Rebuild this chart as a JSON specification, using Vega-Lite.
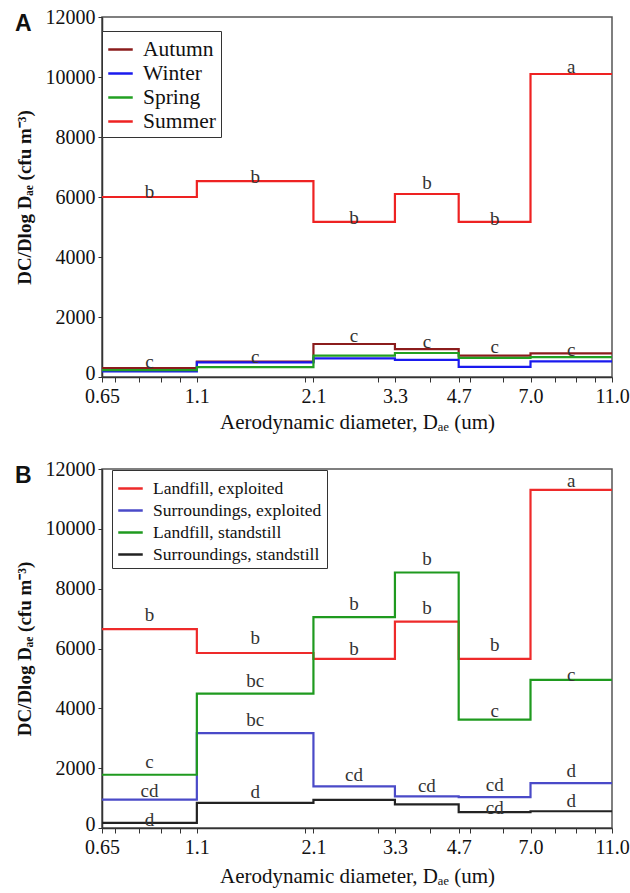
{
  "$schema": "https://vega.github.io/schema/vega-lite/v6.json",
  "padding": {"left": 14, "top": 6, "right": 6, "bottom": 5},
  "spacing": 25,
  "resolve": {"scale": {"color": "independent"}, "legend": {"color": "independent"}},
  "config": {
    "font": "Liberation Serif",
    "view": {"stroke": "#555", "strokeWidth": 1.5},
    "axis": {
      "labelFont": "Liberation Serif", "labelFontSize": 20, "labelColor": "#111",
      "titleFont": "Liberation Serif", "titleFontSize": 21, "titleColor": "#111",
      "domainColor": "#333", "domainWidth": 1.5, "tickColor": "#333", "grid": false
    },
    "legend": {
      "orient": "none", "strokeColor": "#333", "fillColor": "white", "padding": 5,
      "symbolType": "stroke", "symbolStrokeWidth": 2.5, "symbolSize": 600,
      "labelFont": "Liberation Serif", "labelColor": "#111", "labelOffset": 9, "rowPadding": 0, "labelLimit": 400
    },
    "title": {"font": "Liberation Sans", "fontSize": 23, "fontWeight": "bold", "anchor": "start", "frame": "bounds", "baseline": "top", "color": "#111"}
  },
  "datasets": {
    "lineA": [
      {"s": "Autumn", "x": 0.65, "v": 300}, {"s": "Autumn", "x": 1.1, "v": 510}, {"s": "Autumn", "x": 2.1, "v": 1100}, {"s": "Autumn", "x": 3.3, "v": 930}, {"s": "Autumn", "x": 4.7, "v": 710}, {"s": "Autumn", "x": 7.0, "v": 790}, {"s": "Autumn", "x": 11.0, "v": 790},
      {"s": "Winter", "x": 0.65, "v": 190}, {"s": "Winter", "x": 1.1, "v": 490}, {"s": "Winter", "x": 2.1, "v": 620}, {"s": "Winter", "x": 3.3, "v": 570}, {"s": "Winter", "x": 4.7, "v": 340}, {"s": "Winter", "x": 7.0, "v": 520}, {"s": "Winter", "x": 11.0, "v": 520},
      {"s": "Spring", "x": 0.65, "v": 230}, {"s": "Spring", "x": 1.1, "v": 330}, {"s": "Spring", "x": 2.1, "v": 710}, {"s": "Spring", "x": 3.3, "v": 800}, {"s": "Spring", "x": 4.7, "v": 640}, {"s": "Spring", "x": 7.0, "v": 660}, {"s": "Spring", "x": 11.0, "v": 660},
      {"s": "Summer", "x": 0.65, "v": 6000}, {"s": "Summer", "x": 1.1, "v": 6530}, {"s": "Summer", "x": 2.1, "v": 5170}, {"s": "Summer", "x": 3.3, "v": 6100}, {"s": "Summer", "x": 4.7, "v": 5170}, {"s": "Summer", "x": 7.0, "v": 10100}, {"s": "Summer", "x": 11.0, "v": 10100}
    ],
    "labA": [
      {"x": 0.846, "v": 6170, "t": "b"}, {"x": 1.52, "v": 6670, "t": "b"}, {"x": 2.63, "v": 5300, "t": "b"}, {"x": 3.94, "v": 6470, "t": "b"}, {"x": 5.74, "v": 5270, "t": "b"}, {"x": 8.77, "v": 10330, "t": "a"},
      {"x": 0.846, "v": 500, "t": "c"}, {"x": 1.52, "v": 667, "t": "c"}, {"x": 2.63, "v": 1367, "t": "c"}, {"x": 3.94, "v": 1177, "t": "c"}, {"x": 5.74, "v": 990, "t": "c"}, {"x": 8.77, "v": 910, "t": "c"}
    ],
    "lineB": [
      {"s": "Landfill, exploited", "x": 0.65, "v": 6650}, {"s": "Landfill, exploited", "x": 1.1, "v": 5850}, {"s": "Landfill, exploited", "x": 2.1, "v": 5650}, {"s": "Landfill, exploited", "x": 3.3, "v": 6900}, {"s": "Landfill, exploited", "x": 4.7, "v": 5650}, {"s": "Landfill, exploited", "x": 7.0, "v": 11300}, {"s": "Landfill, exploited", "x": 11.0, "v": 11300},
      {"s": "Surroundings, exploited", "x": 0.65, "v": 950}, {"s": "Surroundings, exploited", "x": 1.1, "v": 3170}, {"s": "Surroundings, exploited", "x": 2.1, "v": 1390}, {"s": "Surroundings, exploited", "x": 3.3, "v": 1060}, {"s": "Surroundings, exploited", "x": 4.7, "v": 1030}, {"s": "Surroundings, exploited", "x": 7.0, "v": 1500}, {"s": "Surroundings, exploited", "x": 11.0, "v": 1500},
      {"s": "Landfill, standstill", "x": 0.65, "v": 1780}, {"s": "Landfill, standstill", "x": 1.1, "v": 4490}, {"s": "Landfill, standstill", "x": 2.1, "v": 7050}, {"s": "Landfill, standstill", "x": 3.3, "v": 8540}, {"s": "Landfill, standstill", "x": 4.7, "v": 3620}, {"s": "Landfill, standstill", "x": 7.0, "v": 4950}, {"s": "Landfill, standstill", "x": 11.0, "v": 4950},
      {"s": "Surroundings, standstill", "x": 0.65, "v": 170}, {"s": "Surroundings, standstill", "x": 1.1, "v": 840}, {"s": "Surroundings, standstill", "x": 2.1, "v": 940}, {"s": "Surroundings, standstill", "x": 3.3, "v": 790}, {"s": "Surroundings, standstill", "x": 4.7, "v": 530}, {"s": "Surroundings, standstill", "x": 7.0, "v": 560}, {"s": "Surroundings, standstill", "x": 11.0, "v": 560}
    ],
    "labB": [
      {"x": 0.846, "v": 7110, "t": "b"}, {"x": 1.52, "v": 6350, "t": "b"}, {"x": 2.63, "v": 5980, "t": "b"}, {"x": 3.94, "v": 7350, "t": "b"}, {"x": 5.74, "v": 6110, "t": "b"}, {"x": 8.77, "v": 11590, "t": "a"},
      {"x": 0.846, "v": 2200, "t": "c"}, {"x": 1.52, "v": 4910, "t": "bc"}, {"x": 2.63, "v": 7480, "t": "b"}, {"x": 3.94, "v": 8980, "t": "b"}, {"x": 5.74, "v": 3910, "t": "c"}, {"x": 8.77, "v": 5110, "t": "c"},
      {"x": 0.846, "v": 1240, "t": "cd"}, {"x": 1.52, "v": 3610, "t": "bc"}, {"x": 2.63, "v": 1770, "t": "cd"}, {"x": 3.94, "v": 1400, "t": "cd"}, {"x": 5.74, "v": 1440, "t": "cd"}, {"x": 8.77, "v": 1900, "t": "d"},
      {"x": 0.846, "v": 270, "t": "d"}, {"x": 1.52, "v": 1200, "t": "d"}, {"x": 5.74, "v": 670, "t": "cd"}, {"x": 8.77, "v": 900, "t": "d"}
    ]
  },
  "vconcat": [
    {
      "width": 510, "height": 360,
      "title": {"text": "A", "dy": 33, "dx": 0},
      "layer": [
        {
          "data": {"name": "lineA"},
          "mark": {"type": "line", "interpolate": "step-after", "strokeWidth": 2.2},
          "encoding": {
            "x": {"field": "x", "type": "quantitative",
              "scale": {"type": "log", "domain": [0.65, 11], "nice": false, "zero": false},
              "axis": {"title": "Aerodynamic diameter, Dₐₑ (um)", "titleFont": "Liberation Serif", "titleFontWeight": "normal", "labelFont": "Liberation Serif",
                "values": [0.65, 0.7, 0.8, 0.9, 1.0, 1.1, 2.0, 2.1, 3.0, 3.3, 4.0, 4.7, 5.0, 6.0, 7.0, 8.0, 9.0, 10.0, 11.0],
                "labelExpr": "indexof([0.65, 1.1, 2.1, 3.3, 4.7, 7, 11], datum.value) >= 0 ? (datum.value == 0.65 ? '0.65' : format(datum.value, '.1f')) : ''",
                "labelOverlap": false, "labelFlush": false, "tickSize": 5, "labelPadding": 4, "titlePadding": 5}},
            "y": {"field": "v", "type": "quantitative",
              "scale": {"domain": [0, 12000], "nice": false},
              "axis": {"title": "DC/Dlog Dₐₑ (cfu m⁻³)", "titleFont": "Liberation Serif", "titleFontWeight": "bold", "titleFontSize": 19, "labelFont": "Liberation Serif", "format": "d", "values": [0, 2000, 4000, 6000, 8000, 10000, 12000], "tickSize": 4, "labelPadding": 3, "titlePadding": 11,
                "labelOffset": {"condition": {"test": "datum.value == 0", "value": -4}, "value": 0}}},
            "color": {"field": "s", "type": "nominal",
              "scale": {"domain": ["Autumn", "Winter", "Spring", "Summer"], "range": ["#8b1c1c", "#1a1aee", "#22a022", "#ee2222"]},
              "legend": {"title": null, "legendX": 0, "legendY": 14, "labelFontSize": 21.5, "labelFont": "Liberation Serif"}}
          }
        },
        {
          "data": {"name": "labA"},
          "mark": {"type": "text", "font": "Liberation Serif", "fontSize": 19, "color": "#333", "baseline": "middle"},
          "encoding": {
            "x": {"field": "x", "type": "quantitative"},
            "y": {"field": "v", "type": "quantitative"},
            "text": {"field": "t"}
          }
        }
      ]
    },
    {
      "width": 510, "height": 359,
      "title": {"text": "B", "dy": 33, "dx": 0},
      "layer": [
        {
          "data": {"name": "lineB"},
          "mark": {"type": "line", "interpolate": "step-after", "strokeWidth": 2.2},
          "encoding": {
            "x": {"field": "x", "type": "quantitative",
              "scale": {"type": "log", "domain": [0.65, 11], "nice": false, "zero": false},
              "axis": {"title": "Aerodynamic diameter, Dₐₑ (um)", "titleFont": "Liberation Serif", "titleFontWeight": "normal", "labelFont": "Liberation Serif",
                "values": [0.65, 0.7, 0.8, 0.9, 1.0, 1.1, 2.0, 2.1, 3.0, 3.3, 4.0, 4.7, 5.0, 6.0, 7.0, 8.0, 9.0, 10.0, 11.0],
                "labelExpr": "indexof([0.65, 1.1, 2.1, 3.3, 4.7, 7, 11], datum.value) >= 0 ? (datum.value == 0.65 ? '0.65' : format(datum.value, '.1f')) : ''",
                "labelOverlap": false, "labelFlush": false, "tickSize": 5, "labelPadding": 4, "titlePadding": 8}},
            "y": {"field": "v", "type": "quantitative",
              "scale": {"domain": [0, 12000], "nice": false},
              "axis": {"title": "DC/Dlog Dₐₑ (cfu m⁻³)", "titleFont": "Liberation Serif", "titleFontWeight": "bold", "titleFontSize": 19, "labelFont": "Liberation Serif", "format": "d", "values": [0, 2000, 4000, 6000, 8000, 10000, 12000], "tickSize": 4, "labelPadding": 3, "titlePadding": 11,
                "labelOffset": {"condition": {"test": "datum.value == 0", "value": -4}, "value": 0}}},
            "color": {"field": "s", "type": "nominal",
              "scale": {"domain": ["Landfill, exploited", "Surroundings, exploited", "Landfill, standstill", "Surroundings, standstill"], "range": ["#ee2a2a", "#4a4ac8", "#1f9a1f", "#222222"]},
              "legend": {"title": null, "legendX": 10, "legendY": 1, "labelFontSize": 17.5, "labelFont": "Liberation Serif"}}
          }
        },
        {
          "data": {"name": "labB"},
          "mark": {"type": "text", "font": "Liberation Serif", "fontSize": 19, "color": "#333", "baseline": "middle"},
          "encoding": {
            "x": {"field": "x", "type": "quantitative"},
            "y": {"field": "v", "type": "quantitative"},
            "text": {"field": "t"}
          }
        }
      ]
    }
  ]
}
